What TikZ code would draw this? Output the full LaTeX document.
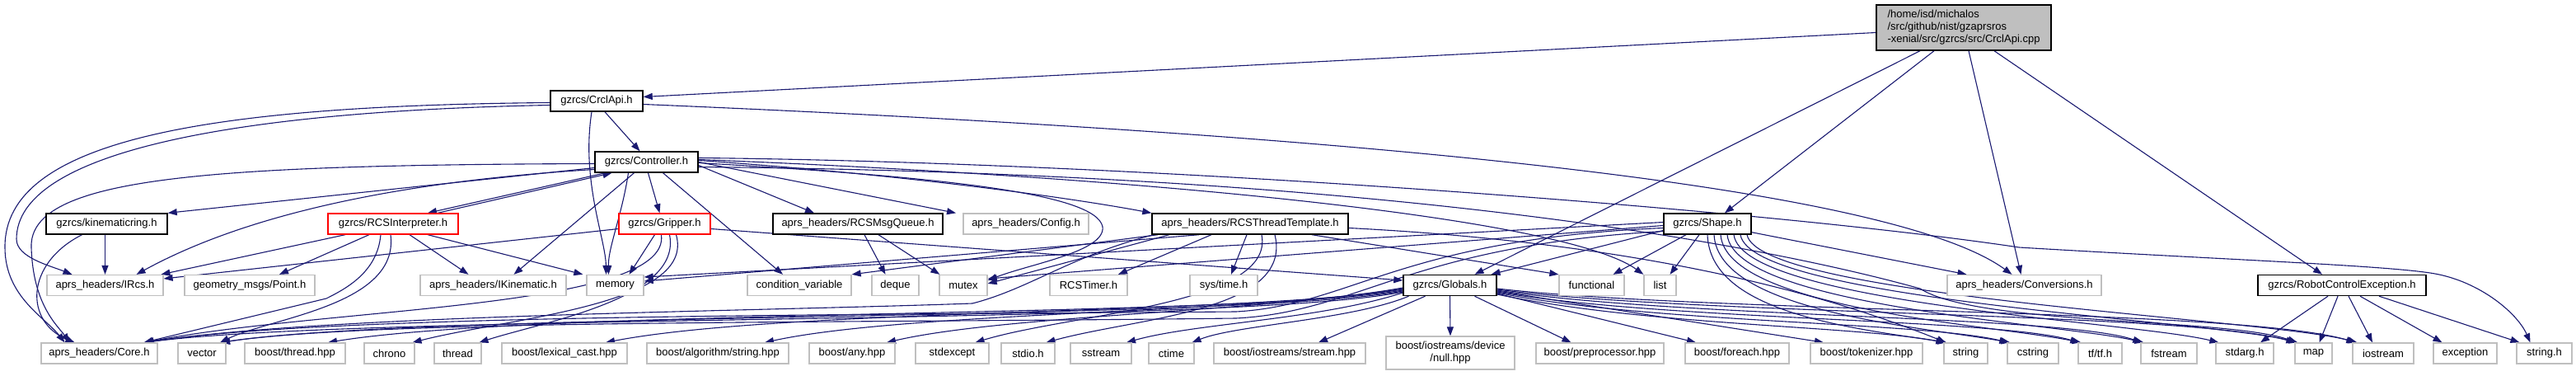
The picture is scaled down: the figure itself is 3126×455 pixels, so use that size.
\documentclass[tikz,border=0pt]{standalone}
\usepackage{fontspec}
\setmainfont{Liberation Sans}
\usetikzlibrary{arrows.meta,backgrounds}
\definecolor{edgeblue}{HTML}{191970}
\definecolor{grey75}{HTML}{BFBFBF}

\begin{document}
\begin{tikzpicture}[
  x=1pt, y=-1pt,
  filebox/.style={draw, fill=white, inner sep=0pt, minimum height=25pt, font=\fontsize{13pt}{15pt}\selectfont},
  docbox/.style={filebox, draw=black, line width=1.4pt},
  redbox/.style={filebox, draw=red, line width=1.3pt},
  sysbox/.style={filebox, draw=grey75, line width=1.3pt},
  rootbox/.style={filebox, fill=grey75, line width=1.4pt, align=left, minimum height=55pt},
  incl/.style={draw=edgeblue, line width=1.1pt, -{Triangle[length=11pt,width=8pt]}}
]
\useasboundingbox (0,0) rectangle (3126,455);

% top rows
\node[rootbox, minimum width=212pt] (root) at (2383,33.5) {/home/isd/michalos\\/src/github/nist/gzaprsros\\-xenial/src/gzrcs/src/CrclApi.cpp};
\node[docbox, minimum width=112pt] (crclh) at (724,122.5) {gzrcs/CrclApi.h};
\node[docbox, minimum width=125pt] (ctrl) at (784.5,196.5) {gzrcs/Controller.h};

% third row
\node[docbox, minimum width=147pt] (kin) at (129.5,271.5) {gzrcs/kinematicring.h};
\node[redbox, minimum width=158pt] (interp) at (477,271.5) {gzrcs/RCSInterpreter.h};
\node[redbox, minimum width=111pt] (grip) at (806.5,271.5) {gzrcs/Gripper.h};
\node[docbox, minimum width=206pt] (msgq) at (1041,271.5) {aprs\_headers/RCSMsgQueue.h};
\node[sysbox, minimum width=152pt] (config) at (1245,271.5) {aprs\_headers/Config.h};
\node[docbox, minimum width=238pt] (thrt) at (1517,271.5) {aprs\_headers/RCSThreadTemplate.h};
\node[docbox, minimum width=106pt] (shape) at (2072,271.5) {gzrcs/Shape.h};

% fourth row
\node[sysbox, minimum width=141pt] (irc) at (127.5,346) {aprs\_headers/IRcs.h};
\node[sysbox, minimum width=158pt] (point) at (303,346) {geometry\_msgs/Point.h};
\node[sysbox, minimum width=177pt] (ikin) at (598.5,346) {aprs\_headers/IKinematic.h};
\node[sysbox, minimum width=69pt] (memory) at (746.5,346) {memory};
\node[sysbox, minimum width=126pt] (condv) at (970,346) {condition\_variable};
\node[sysbox, minimum width=57pt] (deque) at (1086.5,346) {deque};
\node[sysbox, minimum width=58pt] (mutex) at (1169,346) {mutex};
\node[sysbox, minimum width=94pt] (timer) at (1321,346) {RCSTimer.h};
\node[sysbox, minimum width=82pt] (systime) at (1485,346) {sys/time.h};
\node[docbox, minimum width=113pt] (globals) at (1759.5,346) {gzrcs/Globals.h};
\node[sysbox, minimum width=79pt] (functional) at (1931.5,346) {functional};
\node[sysbox, minimum width=39pt] (list) at (2014.5,346) {list};
\node[sysbox, minimum width=187pt] (conv) at (2456.5,346) {aprs\_headers/Conversions.h};
\node[docbox, minimum width=204pt] (rce) at (2842,346) {gzrcs/RobotControlException.h};

% bottom row
\node[sysbox, minimum width=141pt] (core) at (120.5,428.5) {aprs\_headers/Core.h};
\node[sysbox, minimum width=58pt] (vector) at (245,428.5) {vector};
\node[sysbox, minimum width=122pt] (bthread) at (358,428.5) {boost/thread.hpp};
\node[sysbox, minimum width=61pt] (chrono) at (472.5,428.5) {chrono};
\node[sysbox, minimum width=57pt] (thread) at (555.5,428.5) {thread};
\node[sysbox, minimum width=152pt] (lexical) at (685,428.5) {boost/lexical\_cast.hpp};
\node[sysbox, minimum width=172pt] (algstr) at (871,428.5) {boost/algorithm/string.hpp};
\node[sysbox, minimum width=104pt] (any) at (1034,428.5) {boost/any.hpp};
\node[sysbox, minimum width=89pt] (stdexcept) at (1155.5,428.5) {stdexcept};
\node[sysbox, minimum width=65pt] (stdio) at (1247.5,428.5) {stdio.h};
\node[sysbox, minimum width=74pt] (sstream) at (1336,428.5) {sstream};
\node[sysbox, minimum width=55pt] (ctime) at (1421.5,428.5) {ctime};
\node[sysbox, minimum width=184pt] (stream) at (1565,428.5) {boost/iostreams/stream.hpp};
\node[sysbox, minimum width=156pt, minimum height=40pt, align=center] (null) at (1760,428) {boost/iostreams/device\\/null.hpp};
\node[sysbox, minimum width=155pt] (preproc) at (1941.5,428.5) {boost/preprocessor.hpp};
\node[sysbox, minimum width=126pt] (foreach) at (2108,428.5) {boost/foreach.hpp};
\node[sysbox, minimum width=136pt] (tokenizer) at (2265,428.5) {boost/tokenizer.hpp};
\node[sysbox, minimum width=53pt] (string) at (2385.5,428.5) {string};
\node[sysbox, minimum width=62pt] (cstring) at (2467,428.5) {cstring};
\node[sysbox, minimum width=53pt] (tf) at (2548.5,428.5) {tf/tf.h};
\node[sysbox, minimum width=68pt] (fstream) at (2632,428.5) {fstream};
\node[sysbox, minimum width=70pt] (stdarg) at (2724,428.5) {stdarg.h};
\node[sysbox, minimum width=45pt] (map) at (2807.5,428.5) {map};
\node[sysbox, minimum width=74pt] (iostream) at (2892,428.5) {iostream};
\node[sysbox, minimum width=77pt] (exception) at (2991.5,428.5) {exception};
\node[sysbox, minimum width=67pt] (stringh) at (3087.5,428.5) {string.h};

\begin{pgfonlayer}{background}
% from CrclApi.cpp
\draw[incl] ([yshift=-6pt]root.west) -- ([yshift=5pt]crclh.east);
\draw[incl] ([xshift=-53pt]root.south) -- ([xshift=30pt]globals.north);
\draw[incl] ([xshift=-36pt]root.south) -- ([xshift=21pt]shape.north);
\draw[incl] ([xshift=6pt]root.south) -- ([xshift=-4pt]conv.north);
\draw[incl] ([xshift=37pt]root.south) -- ([xshift=-24pt]rce.north);
% from CrclApi.h
\draw[incl] ([xshift=10pt]crclh.south) -- ([xshift=-8pt]ctrl.north);
\draw[incl] ([yshift=-2pt]crclh.west) .. controls (250,128) and (5,170) .. (6,300) .. controls (6,360) and (55,385) .. ([xshift=-42pt]core.north);
\draw[incl] ([yshift=-5pt]crclh.west) .. controls (280,135) and (20,185) .. (20,290) .. controls (20,312) and (60,322) .. ([xshift=-40pt]irc.north);
\draw[incl] ([xshift=-6pt]crclh.south) .. controls (705,220) and (735,290) .. ([xshift=-11pt]memory.north);
\draw[incl] ([yshift=-4pt]crclh.east) .. controls (1700,165) and (2300,230) .. ([xshift=-15pt]conv.north);
% from Controller.h
\draw[incl] ([yshift=-7pt]ctrl.west) -- (kin.north east);
\draw[incl] ([xshift=-50pt]ctrl.south) -- ([xshift=42pt]interp.north);
\draw[incl] ([xshift=2pt]ctrl.south) -- ([xshift=-6pt]grip.north);
\draw[incl] ([xshift=-15pt]ctrl.south) -- ([xshift=25pt]ikin.north);
\draw[incl] ([xshift=-22pt]ctrl.south) .. controls (755,260) and (738,300) .. ([xshift=-8pt]memory.north);
\draw[incl] ([yshift=-9pt]ctrl.west) .. controls (450,222) and (280,270) .. ([xshift=38pt]irc.north);
\draw[incl] ([yshift=-2pt]ctrl.west) .. controls (250,200) and (35,215) .. (38,300) .. controls (40,370) and (70,395) .. ([xshift=-36pt]core.north);
\draw[incl] ([xshift=20pt]ctrl.south) -- ([xshift=-20pt]condv.north);
\draw[incl] ([yshift=-4pt]ctrl.east) -- ([xshift=-53pt]msgq.north);
\draw[incl] (ctrl.east) -- ([xshift=-85pt]config.north);
\draw[incl] ([yshift=2pt]ctrl.east) .. controls (1100,212) and (1300,240) .. (thrt.north west);
\draw[incl] ([yshift=-1pt]ctrl.east) .. controls (1150,215) and (1330,235) .. (1338,275) .. controls (1342,305) and (1250,320) .. ([yshift=6pt]mutex.east);
\draw[incl] ([yshift=3pt]ctrl.east) .. controls (1400,215) and (1900,265) .. (list.north west);
\draw[incl] ([yshift=5pt]ctrl.east) .. controls (1400,197) and (2150,255) .. (2450,300) .. controls (2700,315) and (2900,322) .. (2955,332) .. controls (3010,342) and (3055,380) .. ([xshift=-17pt]stringh.north);
\draw[incl] ([yshift=-6pt]ctrl.east) .. controls (1700,210) and (2150,300) .. (2330,350) .. controls (2400,395) and (2700,385) .. ([xshift=3pt]map.north west);
% from RCSInterpreter.h
\draw[incl] ([xshift=54pt]interp.north) -- ([xshift=-42pt]ctrl.south);
\draw[incl] ([xshift=-58pt]interp.south) -- ([xshift=68pt]irc.north);
\draw[incl] ([xshift=-29pt]interp.south) -- ([xshift=36pt]point.north);
\draw[incl] ([xshift=20pt]interp.south) -- ([xshift=-30pt]ikin.north);
\draw[incl] ([xshift=42pt]interp.south) -- ([xshift=-4pt]memory.north west);
\draw[incl] ([xshift=-15pt]interp.south) .. controls (458,330) and (420,350) .. (396,362) -- ([xshift=54pt]core.north);
\draw[incl] ([xshift=-3pt]interp.south) .. controls (485,370) and (330,385) .. ([xshift=22pt]vector.north);
% from kinematicring.h
\draw[incl] ([xshift=-2pt]kin.south) -- (irc.north);
\draw[incl] ([xshift=-30pt]kin.south) .. controls (30,320) and (30,390) .. ([xshift=-30pt]core.north);
% from Gripper.h
\draw[incl] ([yshift=-6pt]grip.west) -- ([yshift=8pt]irc.east);
\draw[incl] ([xshift=-12pt]grip.south) -- ([xshift=17pt]memory.north);
\draw[incl] ([xshift=-4pt]grip.south) .. controls (815,375) and (400,372) .. ([xshift=55pt]core.north);
\draw[incl] ([xshift=14pt]grip.south) .. controls (845,370) and (620,385) .. ([xshift=28pt]chrono.north);
\draw[incl] ([xshift=6pt]grip.south) .. controls (828,362) and (660,390) .. ([xshift=26pt]thread.north);
\draw[incl] ([yshift=-6pt]grip.east) -- ([yshift=6pt]globals.west);
% from RCSMsgQueue.h
\draw[incl] ([xshift=8pt]msgq.south) -- ([xshift=-12pt]deque.north);
\draw[incl] ([xshift=25pt]msgq.south) -- ([xshift=1pt]mutex.north west);
% from RCSThreadTemplate.h
\draw[incl] ([xshift=-112pt]thrt.south) -- (condv.north east);
\draw[incl] ([xshift=-98pt]thrt.south) -- ([yshift=2pt]mutex.east);
\draw[incl] ([xshift=-62pt]thrt.south) -- ([yshift=5pt]memory.east);
\draw[incl] ([xshift=-47pt]thrt.south) -- ([xshift=36pt]timer.north);
\draw[incl] ([xshift=-4pt]thrt.south) -- ([xshift=9pt]systime.north);
\draw[incl] ([xshift=-117pt]thrt.south) .. controls (1300,310) and (1250,350) .. (1180,368) .. controls (900,378) and (400,382) .. ([xshift=55pt]core.north);
\draw[incl] ([xshift=14pt]thrt.south) .. controls (1548,370) and (1300,380) .. ([xshift=28pt]stdexcept.north);
\draw[incl] ([xshift=30pt]thrt.south) .. controls (1570,378) and (1380,385) .. ([xshift=22pt]stdio.north);
\draw[incl] ([xshift=75pt]thrt.south) -- (functional.north west);
\draw[incl] ([yshift=-5pt]thrt.east) .. controls (1900,290) and (2150,330) .. ([xshift=3pt]string.north west);
% from Shape.h
\draw[incl] ([yshift=-8pt]shape.west) -- ([xshift=50pt]globals.north);
\draw[incl] ([yshift=3pt]shape.south east) -- ([xshift=-70pt]conv.north);
\draw[incl] ([xshift=-26pt]shape.south) -- ([xshift=26pt]functional.north);
\draw[incl] ([xshift=-10pt]shape.south) -- ([xshift=12pt]list.north);
\draw[incl] ([yshift=2pt]shape.west) -- ([yshift=10pt]memory.east);
\draw[incl] ([yshift=-2pt]shape.west) -- ([yshift=8pt]mutex.east);
\draw[incl] ([yshift=-5pt]shape.west) .. controls (1700,290) and (1640,370) .. (1500,378) .. controls (1000,382) and (400,382) .. ([xshift=55pt]core.north);
\draw[incl] ([yshift=-9pt]shape.west) .. controls (1710,298) and (1650,378) .. (1500,386) .. controls (1000,392) and (450,388) .. ([xshift=23pt]vector.north);
\draw[incl] (shape.south) .. controls (2075,380) and (2250,398) .. ([xshift=4pt]string.north west);
\draw[incl] ([xshift=8pt]shape.south) .. controls (2085,378) and (2330,396) .. ([xshift=4pt]cstring.north west);
\draw[incl] ([xshift=16pt]shape.south) .. controls (2095,375) and (2420,394) .. ([xshift=4pt]tf.north west);
\draw[incl] ([xshift=24pt]shape.south) .. controls (2105,372) and (2500,392) .. ([xshift=4pt]fstream.north west);
\draw[incl] ([xshift=32pt]shape.south) .. controls (2115,368) and (2590,390) .. ([xshift=4pt]stdarg.north west);
\draw[incl] ([xshift=40pt]shape.south) .. controls (2125,364) and (2680,388) .. ([xshift=4pt]map.north west);
\draw[incl] ([xshift=48pt]shape.south) .. controls (2135,360) and (2750,386) .. ([xshift=6pt]iostream.north west);
% from Globals.h
\draw[incl] ([yshift=-8pt]globals.west) .. controls (1500,395) and (450,380) .. ([xshift=55pt]core.north);
\draw[incl] ([yshift=-7pt]globals.west) .. controls (1500,390) and (520,378) .. ([xshift=23pt]vector.north);
\draw[incl] ([yshift=-6pt]globals.west) .. controls (1500,386) and (650,374) .. ([xshift=40pt]bthread.north);
\draw[incl] ([yshift=-5pt]globals.west) .. controls (1500,382) and (950,374) .. ([xshift=50pt]lexical.north);
\draw[incl] ([yshift=-4pt]globals.west) .. controls (1520,380) and (1100,378) .. ([xshift=57pt]algstr.north);
\draw[incl] ([yshift=-3pt]globals.west) .. controls (1540,378) and (1220,382) .. ([xshift=42pt]any.north);
\draw[incl] ([yshift=-9pt]globals.west) .. controls (1600,388) and (1450,392) .. ([xshift=31pt]sstream.north);
\draw[incl] ([xshift=-50pt]globals.south) .. controls (1640,388) and (1500,394) .. ([xshift=25pt]ctime.north);
\draw[incl] ([xshift=-30pt]globals.south) -- ([xshift=35pt]stream.north);
\draw[incl] (globals.south) -- (null.north);
\draw[incl] ([xshift=30pt]globals.south) -- ([xshift=-35pt]preproc.north);
\draw[incl] ([yshift=-10pt]globals.east) -- ([xshift=-50pt]foreach.north);
\draw[incl] ([yshift=-7pt]globals.east) -- ([xshift=-52pt]tokenizer.north);
\draw[incl] ([yshift=-11pt]globals.east) .. controls (2000,395) and (2250,395) .. ([xshift=2pt]string.north west);
\draw[incl] ([yshift=-9pt]globals.east) .. controls (2000,392) and (2330,390) .. ([xshift=2pt]cstring.north west);
\draw[incl] ([yshift=-8pt]globals.east) .. controls (2020,389) and (2420,386) .. ([xshift=2pt]tf.north west);
\draw[incl] ([yshift=-6pt]globals.east) .. controls (2040,386) and (2500,382) .. ([xshift=2pt]fstream.north west);
\draw[incl] ([yshift=-5pt]globals.east) .. controls (2060,383) and (2650,378) .. ([xshift=1pt]map.north west);
\draw[incl] ([yshift=-4pt]globals.east) .. controls (2080,380) and (2720,374) .. ([xshift=4pt]iostream.north west);
% from RobotControlException.h
\draw[incl] ([xshift=-17pt]rce.south) -- ([xshift=19pt]stdarg.north);
\draw[incl] ([xshift=-5pt]rce.south) -- ([xshift=7pt]map.north);
\draw[incl] ([xshift=8pt]rce.south) -- ([xshift=-13pt]iostream.north);
\draw[incl] ([xshift=22pt]rce.south) -- ([xshift=-28pt]exception.north);
\draw[incl] ([xshift=45pt]rce.south) -- ([xshift=-30pt]stringh.north);
\end{pgfonlayer}
\end{tikzpicture}
\end{document}
